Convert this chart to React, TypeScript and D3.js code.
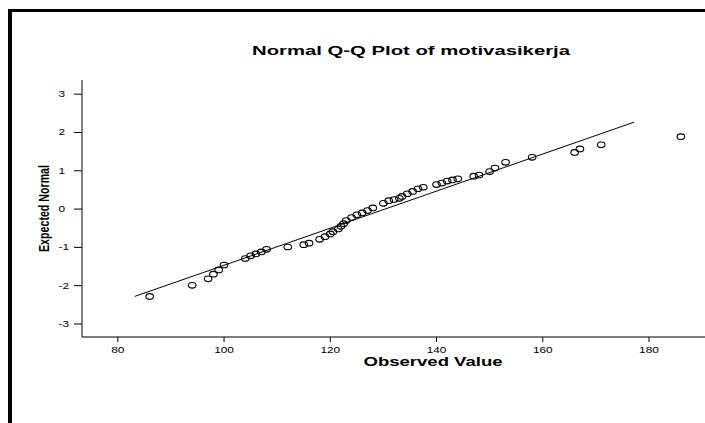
import React from 'react';
import * as d3 from 'd3';

const observed = [
  86, 94, 97, 98, 99, 100, 104, 105, 106, 107, 108, 112, 115, 116, 118, 119, 120, 120.5,
  121.5, 122, 122.5, 123, 124, 125, 126, 127, 128, 130, 131, 132, 133, 133.5, 134.5, 135.5,
  136.5, 137.5, 140, 141, 142, 143, 144, 147, 148, 150, 151, 153, 158, 166, 167, 171, 186,
];
const expected = [
  -2.28, -1.99, -1.82, -1.7, -1.59, -1.46, -1.29, -1.22, -1.17, -1.12, -1.05, -0.99, -0.93,
  -0.89, -0.79, -0.72, -0.65, -0.59, -0.52, -0.45, -0.38, -0.3, -0.22, -0.15, -0.1, -0.04,
  0.03, 0.15, 0.22, 0.25, 0.28, 0.33, 0.4, 0.46, 0.53, 0.57, 0.64, 0.68, 0.73, 0.76, 0.79,
  0.86, 0.89, 0.98, 1.07, 1.22, 1.35, 1.48, 1.57, 1.68, 1.89,
];
const lineX = [83.2, 177.2];
const lineY = [-2.28, 2.27];
const xTicks = [80, 100, 120, 140, 160, 180];
const yTicks = [3, 2, 1, 0, -1, -2, -3];

const title = 'Normal Q-Q Plot of motivasikerja';
const xLabel = 'Observed Value';
const yLabel = 'Expected Normal';

const W = 705;
const H = 423;
const FONT = "'Liberation Sans', Arial, sans-serif";

export default function App() {
  const x = d3.scaleLinear().domain([73.26, 190.54]).range([82, 705]);
  const y = d3.scaleLinear().domain([-3.34, 3.37]).range([337, 80]);
  const [x0, x1] = x.range();
  const [yb, yt] = y.range();

  const line = d3.line<number>()
    .x((d) => x(d))
    .y((_, i) => y(lineY[i]));

  return (
    <svg width={W} height={H} style={{ position: 'absolute', left: 0, top: 0, display: 'block', background: '#fff' }}>
      {/* outer frame */}
      <rect x={8} y={9} width={W} height={3} fill="#000" />
      <rect x={8} y={9} width={4} height={H} fill="#000" />

      <text x={252} y={55} fontFamily={FONT} fontWeight="bold" fontSize={12.3}
        textLength={318} lengthAdjust="spacingAndGlyphs">{title}</text>

      {/* axes */}
      <line x1={x0} x2={x1} y1={yb} y2={yb} stroke="#000" strokeWidth={1} />
      <line x1={x0} x2={x0} y1={yt} y2={yb} stroke="#000" strokeWidth={1} />

      {xTicks.map((t) => (
        <g key={'x' + t}>
          <line x1={x(t)} x2={x(t)} y1={yb} y2={yb + 5} stroke="#000" />
          <text transform={`translate(${x(t)},352.5) scale(1.35,1)`} textAnchor="middle"
            fontFamily={FONT} fontSize={8.8}>{t}</text>
        </g>
      ))}
      {yTicks.map((t) => (
        <g key={'y' + t}>
          <line x1={x0 - 8} x2={x0} y1={y(t)} y2={y(t)} stroke="#000" />
          <text transform={`translate(58.5,${y(t) + 3}) scale(1.35,1)`}
            fontFamily={FONT} fontSize={8.8}>{t}</text>
        </g>
      ))}

      <text x={433} y={366} textAnchor="middle" fontFamily={FONT} fontWeight="bold" fontSize={12}
        textLength={139} lengthAdjust="spacingAndGlyphs">{xLabel}</text>
      <text transform="translate(49,208.5) scale(1.4,1) rotate(-90)" textAnchor="middle"
        fontFamily={FONT} fontWeight="bold" fontSize={10.8}
        textLength={87} lengthAdjust="spacingAndGlyphs">{yLabel}</text>

      {/* reference line */}
      <path d={line(lineX) || ''} fill="none" stroke="#000" strokeWidth={1} />

      {observed.map((v, i) => (
        <ellipse key={i} cx={x(v)} cy={y(expected[i])} rx={3.8} ry={2.8}
          fill="none" stroke="#000" strokeWidth={1.1} />
      ))}
    </svg>
  );
}
